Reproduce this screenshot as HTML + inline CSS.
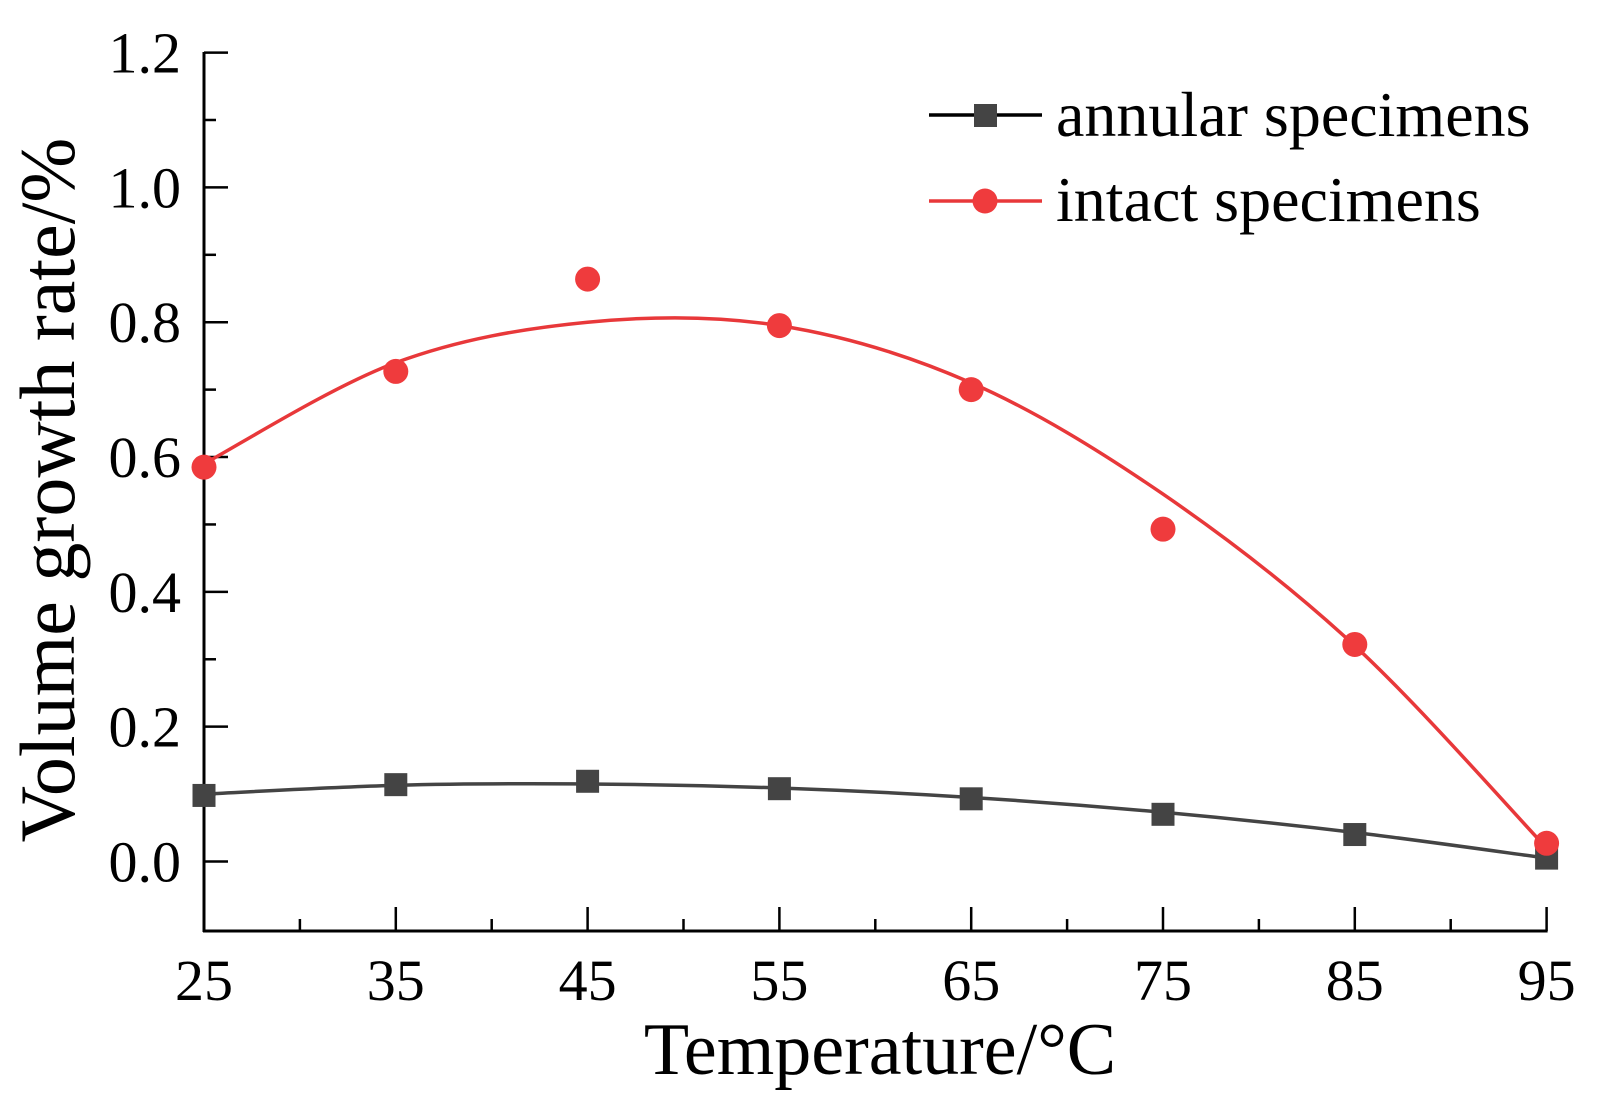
<!DOCTYPE html>
<html><head><style>body{margin:0;background:#fff}svg{display:block}text{font-family:"Liberation Serif",serif;fill:#000}</style></head>
<body>
<svg id="s" width="1605" height="1112" xmlns="http://www.w3.org/2000/svg">
<g id="g"></g>
<text x="880" y="1074" font-size="74" text-anchor="middle">Temperature/°C</text>
<text transform="translate(74,490) rotate(-90)" font-size="78" text-anchor="middle">Volume growth rate/%</text>
<line x1="929" y1="115" x2="1042" y2="115" stroke="#000" stroke-width="3.5"/>
<rect x="974" y="104" width="23" height="23" fill="#444"/>
<text x="1056" y="136" font-size="64">annular specimens</text>
<line x1="929" y1="201" x2="1042" y2="201" stroke="#e8383a" stroke-width="3.5"/>
<circle cx="985" cy="201" r="12.5" fill="#ef3b3d"/>
<text x="1056" y="221" font-size="64">intact specimens</text>
</svg>
<script>
const X=t=>204+(t-25)*19.18, Y=v=>861.5-v*674.1;
let h='';
const g=document.getElementById('g');
h+=`<line x1="204" y1="52" x2="204" y2="932" stroke="#000" stroke-width="3"/>`;
h+=`<line x1="203" y1="931" x2="${X(95)+1}" y2="931" stroke="#000" stroke-width="3"/>`;
for(let i=0;i<=12;i++){let y=Y(i*0.1);let L=i%2==0?24:12;h+=`<line x1="204" y1="${y}" x2="${204+L}" y2="${y}" stroke="#000" stroke-width="2.5"/>`;}
for(let i=0;i<=6;i++){let v=i*0.2;h+=`<text x="181" y="${Y(v)+20}" font-size="58" text-anchor="end">${v.toFixed(1)}</text>`;}
for(let i=0;i<=14;i++){let t=25+i*5;let x=X(t);let L=i%2==0?24:12;h+=`<line x1="${x}" y1="931" x2="${x}" y2="${931-L}" stroke="#000" stroke-width="2.5"/>`;if(i%2==0)h+=`<text x="${x}" y="1000" font-size="58" text-anchor="middle">${t}</text>`;}
function curve(vals,col,w){const ts=[25,35,45,55,65,75,85,95];const p=ts.map((t,i)=>[X(t),Y(vals[i])]);let d=`M${p[0][0]},${p[0][1]}`;for(let i=0;i<p.length-1;i++){const p0=p[Math.max(i-1,0)],p1=p[i],p2=p[i+1],p3=p[Math.min(i+2,p.length-1)];d+=` C${p1[0]+(p2[0]-p0[0])/6},${p1[1]+(p2[1]-p0[1])/6} ${p2[0]-(p3[0]-p1[0])/6},${p2[1]-(p3[1]-p1[1])/6} ${p2[0]},${p2[1]}`;}return `<path d="${d}" fill="none" stroke="${col}" stroke-width="${w}"/>`;}
h+=curve([0.10,0.113,0.115,0.109,0.095,0.073,0.043,0.005],'#444',3.5);
h+=curve([0.59,0.74,0.80,0.795,0.71,0.545,0.32,0.02],'#e8383a',3.5);
const ts=[25,35,45,55,65,75,85,95];
[0.098,0.114,0.119,0.108,0.093,0.070,0.040,0.005].forEach((v,i)=>{h+=`<rect x="${X(ts[i])-11.5}" y="${Y(v)-11.5}" width="23" height="23" fill="#444"/>`;});
[0.585,0.727,0.864,0.795,0.70,0.493,0.322,0.027].forEach((v,i)=>{h+=`<circle cx="${X(ts[i])}" cy="${Y(v)}" r="12.5" fill="#ef3b3d"/>`;});
g.innerHTML=h;
</script>
</body></html>
